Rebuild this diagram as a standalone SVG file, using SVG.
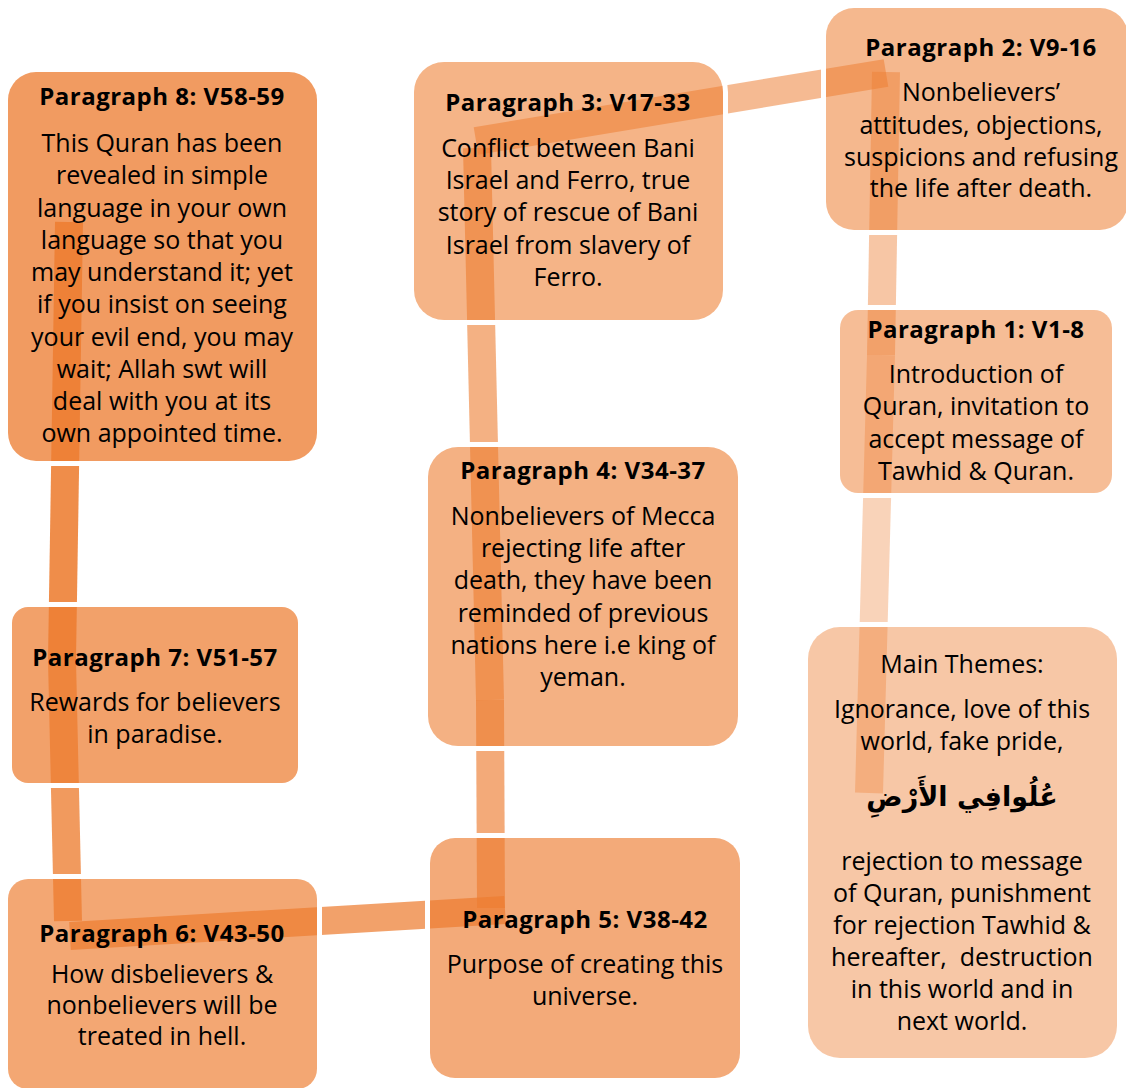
<svg xmlns="http://www.w3.org/2000/svg" width="1126" height="1088" viewBox="0 0 1126 1088">
<style>
.t{font-family:"Open Sans","Liberation Sans",sans-serif;font-weight:700;font-size:24px;letter-spacing:0.5px;fill:#000;text-anchor:middle}
.b{font-family:"Open Sans","Liberation Sans",sans-serif;font-size:25px;fill:#000;text-anchor:middle}
.ar{font-family:"DejaVu Sans",sans-serif;font-weight:700;font-size:27px;fill:#000;text-anchor:middle}
.box{fill:#ED7D31}
.seg{fill:none;stroke:#ED7D31;stroke-width:28;stroke-linecap:butt}
</style>
<defs>
<mask id="gap" maskUnits="userSpaceOnUse" x="0" y="0" width="1126" height="1088">
<rect width="1126" height="1088" fill="#fff"/>
<rect x="3" y="67" width="319" height="399" rx="33" fill="#000"/>
<rect x="7" y="602" width="296" height="186" rx="21" fill="#000"/>
<rect x="3" y="874" width="319" height="220" rx="25" fill="#000"/>
<rect x="425" y="833" width="320" height="250" rx="30" fill="#000"/>
<rect x="423" y="442" width="320" height="309" rx="35" fill="#000"/>
<rect x="409" y="57" width="319" height="268" rx="35" fill="#000"/>
<rect x="821" y="3" width="312" height="232" rx="33" fill="#000"/>
<rect x="835" y="305" width="282" height="193" rx="23" fill="#000"/>
<rect x="803" y="622" width="319" height="441" rx="37" fill="#000"/>
<rect x="8" y="72" width="309" height="389" rx="28" fill="#fff"/>
<rect x="12" y="607" width="286" height="176" rx="16" fill="#fff"/>
<rect x="8" y="879" width="309" height="210" rx="20" fill="#fff"/>
<rect x="430" y="838" width="310" height="240" rx="25" fill="#fff"/>
<rect x="428" y="447" width="310" height="299" rx="30" fill="#fff"/>
<rect x="414" y="62" width="309" height="258" rx="30" fill="#fff"/>
<rect x="826" y="8" width="302" height="222" rx="28" fill="#fff"/>
<rect x="840" y="310" width="272" height="183" rx="18" fill="#fff"/>
<rect x="808" y="627" width="309" height="431" rx="32" fill="#fff"/>
</mask>
</defs>
<rect width="1126" height="1088" fill="#fff"/>
<g id="connectors" mask="url(#gap)">
<path class="seg" d="M869,793 L881,355" stroke-opacity="0.34"/>
<path class="seg" d="M881,355 L886,72" stroke-opacity="0.44"/>
<path class="seg" d="M476,141 L886,73" stroke-opacity="0.53"/>
<path class="seg" d="M477,148 L490,700" stroke-opacity="0.6"/>
<path class="seg" d="M490,700 L491,908" stroke-opacity="0.65"/>
<path class="seg" d="M505,910 L70,936" stroke-opacity="0.72"/>
<path class="seg" d="M68,921 L62,660" stroke-opacity="0.78"/>
<path class="seg" d="M62,660 L69,222" stroke-opacity="0.88"/>
</g>
<g id="main-themes">
<rect class="box" x="808" y="627" width="309" height="431" rx="32" fill-opacity="0.43"/>
<text class="b" x="962" y="673">Main Themes:</text>
<text class="b" x="962" y="718">Ignorance, love of this</text>
<text class="b" x="962" y="750">world, fake pride,</text>
<text class="ar" x="962" y="806" direction="rtl">عُلُوافِي الأَرْضِ</text>
<text class="b" x="962" y="870">rejection to message</text>
<text class="b" x="962" y="902">of Quran, punishment</text>
<text class="b" x="962" y="934">for rejection Tawhid &amp;</text>
<text class="b" x="962" y="966" xml:space="preserve">hereafter,  destruction</text>
<text class="b" x="962" y="998">in this world and in</text>
<text class="b" x="962" y="1030">next world.</text>
</g>
<g id="p1">
<rect class="box" x="840" y="310" width="272" height="183" rx="18" fill-opacity="0.51"/>
<text class="t" x="976" y="338">Paragraph 1: V1-8</text>
<text class="b" x="976" y="383">Introduction of</text>
<text class="b" x="976" y="415">Quran, invitation to</text>
<text class="b" x="976" y="448">accept message of</text>
<text class="b" x="976" y="480">Tawhid &amp; Quran.</text>
</g>
<g id="p2">
<rect class="box" x="826" y="8" width="302" height="222" rx="28" fill-opacity="0.55"/>
<text class="t" x="981" y="56">Paragraph 2: V9-16</text>
<text class="b" x="981" y="101">Nonbelievers’</text>
<text class="b" x="981" y="134">attitudes, objections,</text>
<text class="b" x="981" y="166">suspicions and refusing</text>
<text class="b" x="981" y="197">the life after death.</text>
</g>
<g id="p3">
<rect class="box" x="414" y="62" width="309" height="258" rx="30" fill-opacity="0.58"/>
<text class="t" x="568" y="111">Paragraph 3: V17-33</text>
<text class="b" x="568" y="157">Conflict between Bani</text>
<text class="b" x="568" y="189">Israel and Ferro, true</text>
<text class="b" x="568" y="221">story of rescue of Bani</text>
<text class="b" x="568" y="254">Israel from slavery of</text>
<text class="b" x="568" y="286">Ferro.</text>
</g>
<g id="p4">
<rect class="box" x="428" y="447" width="310" height="299" rx="30" fill-opacity="0.6"/>
<text class="t" x="583" y="479">Paragraph 4: V34-37</text>
<text class="b" x="583" y="525">Nonbelievers of Mecca</text>
<text class="b" x="583" y="557">rejecting life after</text>
<text class="b" x="583" y="589">death, they have been</text>
<text class="b" x="583" y="622">reminded of previous</text>
<text class="b" x="583" y="654">nations here i.e king of</text>
<text class="b" x="583" y="686">yeman.</text>
</g>
<g id="p5">
<rect class="box" x="430" y="838" width="310" height="240" rx="25" fill-opacity="0.65"/>
<text class="t" x="585" y="928">Paragraph 5: V38-42</text>
<text class="b" x="585" y="973">Purpose of creating this</text>
<text class="b" x="585" y="1005">universe.</text>
</g>
<g id="p6">
<rect class="box" x="8" y="879" width="309" height="210" rx="20" fill-opacity="0.68"/>
<text class="t" x="162" y="942">Paragraph 6: V43-50</text>
<text class="b" x="162" y="983">How disbelievers &amp;</text>
<text class="b" x="162" y="1014">nonbelievers will be</text>
<text class="b" x="162" y="1045">treated in hell.</text>
</g>
<g id="p7">
<rect class="box" x="12" y="607" width="286" height="176" rx="16" fill-opacity="0.72"/>
<text class="t" x="155" y="666">Paragraph 7: V51-57</text>
<text class="b" x="155" y="711">Rewards for believers</text>
<text class="b" x="155" y="743">in paradise.</text>
</g>
<g id="p8">
<rect class="box" x="8" y="72" width="309" height="389" rx="28" fill-opacity="0.77"/>
<text class="t" x="162" y="105">Paragraph 8: V58-59</text>
<text class="b" x="162" y="152">This Quran has been</text>
<text class="b" x="162" y="184">revealed in simple</text>
<text class="b" x="162" y="217">language in your own</text>
<text class="b" x="162" y="249">language so that you</text>
<text class="b" x="162" y="281">may understand it; yet</text>
<text class="b" x="162" y="313">if you insist on seeing</text>
<text class="b" x="162" y="346">your evil end, you may</text>
<text class="b" x="162" y="378">wait; Allah swt will</text>
<text class="b" x="162" y="410">deal with you at its</text>
<text class="b" x="162" y="442">own appointed time.</text>
</g>
</svg>
